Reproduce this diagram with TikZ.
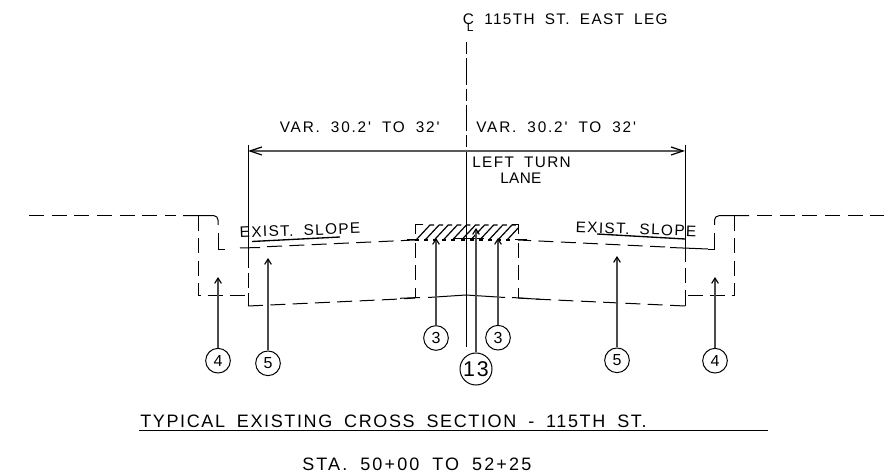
\documentclass[tikz,border=0pt]{standalone}
\usepackage{fontspec}
\setmainfont[LetterSpace=9,WordSpace=1.8]{Liberation Sans}
\newfontfamily\wideface[LetterSpace=12,WordSpace=1.8]{Liberation Sans}
\newfontfamily\tightface[LetterSpace=2.5]{Liberation Sans}
\usetikzlibrary{arrows.meta}
\tikzset{
 x=0.75pt,y=-0.75pt,
 ln/.style={line width=0.75pt,black},
 dsh/.style={ln,dash pattern=on 11.25pt off 5.5pt},
 dshb/.style={ln,dash pattern=on 11.25pt off 5.75pt},
 lead/.style={line width=0.85pt,black!70,-{Straight Barb[length=4pt,width=5pt,black]}},
 bub/.style={circle,draw,line width=0.75pt,inner sep=0pt,minimum size=18.5pt,font=\fontsize{12}{12}\selectfont},
 bubb/.style={bub,minimum size=24pt,font=\fontsize{16}{16}\selectfont},
 lab/.style={inner sep=0pt,font=\fontsize{11.5}{12}\selectfont,anchor=west},
}
\begin{document}
\begin{tikzpicture}
\useasboundingbox (0,0) rectangle (884,473);
\coordinate (cltop) at (466,42);
\coordinate (clmid) at (466,150);
\coordinate (clbot) at (466,347);
\coordinate (dl) at (248,151);
\coordinate (dr) at (685,151);
% centerline
\draw[ln,dash pattern=on 9pt off 3pt on 20pt off 3pt] (cltop) -- (clmid);
\draw[ln] (clmid) -- (clbot);
% dimension
\draw[ln] (248,145) -- (248,268);
\draw[ln] (685,145) -- (685,262);
\draw[line width=0.9pt,black!65,{Straight Barb[length=9pt,width=6pt,black]}-{Straight Barb[length=9pt,width=6pt,black]}] (dl) -- (dr);
% left side
\draw[dshb] (29,215.7) -- (176,215.7);
\draw[ln] (183,215.7) -- (214,215.7) to[out=0,in=90] (218,220) -- (218,225);
\draw[ln] (218,233) -- (218,249.3) -- (225,249.3);
\draw[ln] (240,248) -- (260,247.5);
\draw[dsh] (267,246.7) -- (415,240);
\draw[dsh] (248,273) -- (248,293);
\draw[ln] (248,293) -- (248,306);
\draw[dsh] (198.5,216) -- (198.5,296) -- (248,296);
\draw[dsh] (248,306) -- (400,299) -- (415,298);
% right side
\draw[dshb] (757,215.7) -- (884,215.7);
\draw[ln] (749,215.7) -- (719,215.7) to[out=180,in=90] (714.5,220) -- (714.5,225);
\draw[ln] (714.5,233) -- (714.5,249.3) -- (708,249.3);
\draw[dsh] (665,247) -- (518,240);
\draw[ln] (670,247.5) -- (708,249);
\draw[dsh] (685,268) -- (685,293);
\draw[ln] (685,293) -- (685,306);
\draw[dsh] (734.3,216) -- (734.3,296) -- (685,296);
\draw[dsh] (685,306) -- (540,299.3) -- (518,298);
% centre box
\draw[dsh] (415,243) -- (415,298);
\draw[dsh] (518,243) -- (518,298);
\draw[ln] (428,297.5) -- (466,295) -- (505,297.5);
\draw[ln] (407,240) -- (417,240);
\draw[ln] (515,240) -- (527,240);
\draw[ln] (400,298.3) -- (420,297.5);
\draw[ln] (512,297.5) -- (540,299.3);
% hatch
\begin{scope}
\clip (414.5,224.5) rectangle (518.5,240.5);
\foreach \i in {0,...,10}{
 \draw[ln,line width=0.9pt] ({416+\i*9.1},240) -- ({416+\i*9.1+14},225) -- ({416+\i*9.1+18},225);
 \draw[ln,line width=0.9pt] ({416+\i*9.1-1},240) -- ({416+\i*9.1+3},240);
}
\end{scope}
\draw[ln] (415,234) -- (415,225) -- (423,225);
\draw[ln] (518,234) -- (518,225) -- (512,225);
\draw[ln] (454,238.8) -- (484,238.8);
% EXIST SLOPE
\node[lab,rotate=2,anchor=west] (sl) at (239.5,232.5) {EXIST. SLOPE};
\node[lab,rotate=-2,anchor=west] (sr) at (575.5,227) {EXIST. SLOPE};
\draw[ln,line width=1pt] (252,241.5) -- (340,237);
\draw[ln,line width=1pt] (597,234) -- (685,239);
% bubbles
\node[bub] (a4) at (218,360.7) {4};
\node[bub] (a5) at (268,363.3) {5};
\node[bub] (b3) at (436,338) {3};
\node[bub] (c3) at (498,337.7) {3};
\node[bubb] (d13) at (476,369) {13};
\node[bub] (e5) at (617,360.3) {5};
\node[bub] (f4) at (715,360.7) {4};
\coordinate (t4) at (218,277);
\coordinate (t5) at (268,258);
\coordinate (tb) at (436,238);
\coordinate (tc) at (498,238);
\coordinate (td) at (476,228);
\coordinate (te) at (617,256);
\coordinate (tf) at (715,277);
\draw[lead] (a4) -- (t4);
\draw[lead] (a5) -- (t5);
\draw[lead] (b3) -- (tb);
\draw[lead] (c3) -- (tc);
\draw[lead] (d13) -- (td);
\draw[lead] (e5) -- (te);
\draw[lead] (f4) -- (tf);
% text
\node[lab] (cc) at (462.5,19) {C};
\node[lab,font=\fontsize{9}{9}\selectfont] (cl) at (466.5,27) {L};
\node[lab] (st) at (484,19) {115TH ST. EAST LEG};
\node[lab,font=\wideface\fontsize{11.5}{12}\selectfont] (v1) at (279.5,127) {VAR. 30.2' TO 32'};
\node[lab,font=\wideface\fontsize{11.5}{12}\selectfont] (v2) at (476,127) {VAR. 30.2' TO 32'};
\node[lab] (lt) at (472,162) {LEFT TURN};
\node[lab,font=\tightface\fontsize{11.5}{12}\selectfont] (la) at (500,178) {LANE};
\node[lab,font=\fontsize{13.5}{14}\selectfont] (ti) at (140,421) {TYPICAL EXISTING CROSS SECTION - 115TH ST.};
\coordinate (u1) at (139,430.7);
\coordinate (u2) at (768,430.7);
\draw[ln,line width=0.95pt] (u1) -- (u2);
\node[lab,font=\wideface\fontsize{13.5}{14}\selectfont] (sta) at (302,464.5) {STA. 50+00 TO 52+25};
\end{tikzpicture}
\end{document}
